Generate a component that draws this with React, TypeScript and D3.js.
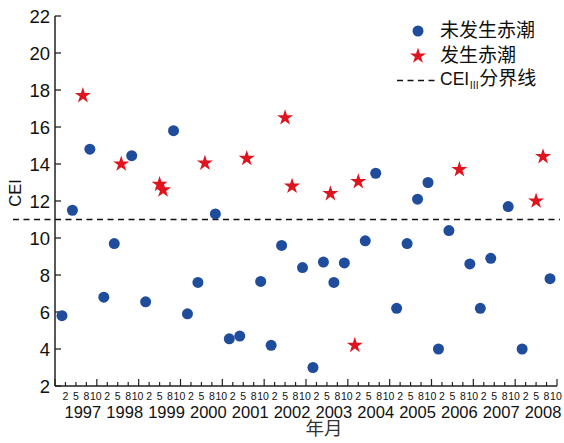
import React from "react";
import * as d3 from "d3";

// 未发生赤潮 (no red tide) survey records
const quietDates = [
  "1997-02", "1997-05", "1997-10", "1998-02", "1998-05", "1998-10",
  "1999-02", "1999-10", "2000-02", "2000-05", "2000-10", "2001-02",
  "2001-05", "2001-11", "2002-02", "2002-05", "2002-11", "2003-02",
  "2003-05", "2003-08", "2003-11", "2004-05", "2004-08", "2005-02",
  "2005-05", "2005-08", "2005-11", "2006-02", "2006-05", "2006-11",
  "2007-02", "2007-05", "2007-10", "2008-02", "2008-10",
];
const quietCEI = [
  5.8, 11.5, 14.8, 6.8, 9.7, 14.45,
  6.55, 15.8, 5.9, 7.6, 11.3, 4.55,
  4.7, 7.65, 4.2, 9.6, 8.4, 3.0,
  8.7, 7.6, 8.65, 9.85, 13.5, 6.2,
  9.7, 12.1, 13.0, 4.0, 10.4, 8.6,
  6.2, 8.9, 11.7, 4.0, 7.8,
];

// 发生赤潮 (red tide) records
const bloomDates = [
  "1997-08", "1998-07", "1999-06", "1999-07", "2000-07", "2001-07",
  "2002-06", "2002-08", "2003-07", "2004-02", "2004-03", "2006-08",
  "2008-06", "2008-08",
];
const bloomCEI = [
  17.7, 14.0, 12.9, 12.6, 14.05, 14.3,
  16.5, 12.8, 12.4, 4.2, 13.05, 13.7,
  12.0, 14.4,
];

const years = d3.range(1997, 2009);
const monthLabels = ["2", "5", "8", "10"];
// position of each month label within a year, in months from the year start
const monthLabelOffsets = [3, 6, 9, 11.7];
const yTicks = d3.range(2, 23, 2);
const threshold = 11;

const startYear = 1997;
const toMonthIndex = (s: string) => {
  const [y, m] = s.split("-").map(Number);
  return (y - startYear) * 12 + m;
};

const W = 564;
const H = 443;
const left = 55;
const right = 557;
const top = 16;
const bottom = 386;

const blue = "#1f4d9c";
const red = "#e0141e";
const axisColor = "#222";
const latin = "'Liberation Sans', Arial, sans-serif";
const cjk = "'Noto Sans CJK SC', sans-serif";

export default function App() {
  const x = d3.scaleLinear().domain([0, 144]).range([left, right]);
  const y = d3.scaleLinear().domain([2, 22]).range([bottom, top]);

  const starPath = d3.symbol().type(d3.symbolStar).size(80)()!;
  const circlePath = d3.symbol().type(d3.symbolCircle).size(Math.PI * 5.5 * 5.5)()!;

  const quiet = quietDates.map((d, i) => ({ t: toMonthIndex(d), v: quietCEI[i] }));
  const bloom = bloomDates.map((d, i) => ({ t: toMonthIndex(d), v: bloomCEI[i] }));

  const xTicks = d3.range(0, 145, 3);

  return (
    <svg width={W} height={H} style={{ position: "absolute", left: 0, top: 0, background: "#fff" }}>
      {/* threshold line */}
      <line
        x1={13}
        x2={560}
        y1={y(threshold)}
        y2={y(threshold)}
        stroke="#111"
        strokeWidth={1.3}
        strokeDasharray="6 4.5"
      />

      {/* axes */}
      <line x1={left} x2={left} y1={top} y2={bottom} stroke={axisColor} strokeWidth={1.5} />
      <line x1={left} x2={right} y1={bottom} y2={bottom} stroke={axisColor} strokeWidth={1.5} />

      {yTicks.map((t) => (
        <g key={`y${t}`}>
          <line x1={left} x2={left + 6} y1={y(t)} y2={y(t)} stroke={axisColor} strokeWidth={1.3} />
          <text
            x={left - 5}
            y={y(t)}
            dy="0.36em"
            textAnchor="end"
            fontFamily={latin}
            fontSize={18.5}
            fill="#111"
          >
            {t}
          </text>
        </g>
      ))}

      {xTicks.map((t) => {
        const major = t % 12 === 0;
        return (
          <line
            key={`x${t}`}
            x1={x(t)}
            x2={x(t)}
            y1={bottom}
            y2={bottom - (major ? 7 : 4)}
            stroke={axisColor}
            strokeWidth={1.2}
          />
        );
      })}

      {years.map((yr, i) => (
        <g key={`yr${yr}`}>
          {monthLabels.map((m, j) => (
            <text
              key={m}
              x={x(i * 12 + monthLabelOffsets[j])}
              y={400}
              textAnchor="middle"
              fontFamily={latin}
              fontSize={10.5}
              fill="#111"
            >
              {m}
            </text>
          ))}
          <text
            x={x(i * 12 + 8)}
            y={417.5}
            textAnchor="middle"
            fontFamily={latin}
            fontSize={16.5}
            fill="#111"
          >
            {yr}
          </text>
        </g>
      ))}

      {/* axis titles */}
      <text
        x={324}
        y={435}
        textAnchor="middle"
        fontFamily={cjk}
        fontSize={18.5}
        fill="#333"
      >
        年月
      </text>
      <text
        transform={`translate(21,193) rotate(-90)`}
        textAnchor="middle"
        fontFamily={latin}
        fontSize={16.5}
        fill="#111"
      >
        CEI
      </text>

      {/* points */}
      {quiet.map((d, i) => (
        <path key={`q${i}`} d={circlePath} transform={`translate(${x(d.t)},${y(d.v)})`} fill={blue} />
      ))}
      {bloom.map((d, i) => (
        <path key={`b${i}`} d={starPath} transform={`translate(${x(d.t)},${y(d.v)})`} fill={red} />
      ))}

      {/* legend */}
      <g>
        <path d={circlePath} transform="translate(418,31)" fill={blue} />
        <text x={440} y={30} dy="0.36em" fontFamily={cjk} fontSize={19} fill="#111">
          未发生赤潮
        </text>
        <path d={starPath} transform="translate(418,56)" fill={red} />
        <text x={440} y={55} dy="0.36em" fontFamily={cjk} fontSize={19} fill="#111">
          发生赤潮
        </text>
        <line x1={397} x2={435} y1={80.5} y2={80.5} stroke="#111" strokeWidth={1.3} strokeDasharray="6 4.5" />
        <text x={440} y={79} dy="0.36em" fontFamily={latin} fontSize={17.5} fill="#111">
          CEI
          <tspan fontFamily={cjk} fontSize={10} dy={4}>
            Ⅲ
          </tspan>
          <tspan fontFamily={cjk} fontSize={19} dy={-4}>
            分界线
          </tspan>
        </text>
      </g>
    </svg>
  );
}
